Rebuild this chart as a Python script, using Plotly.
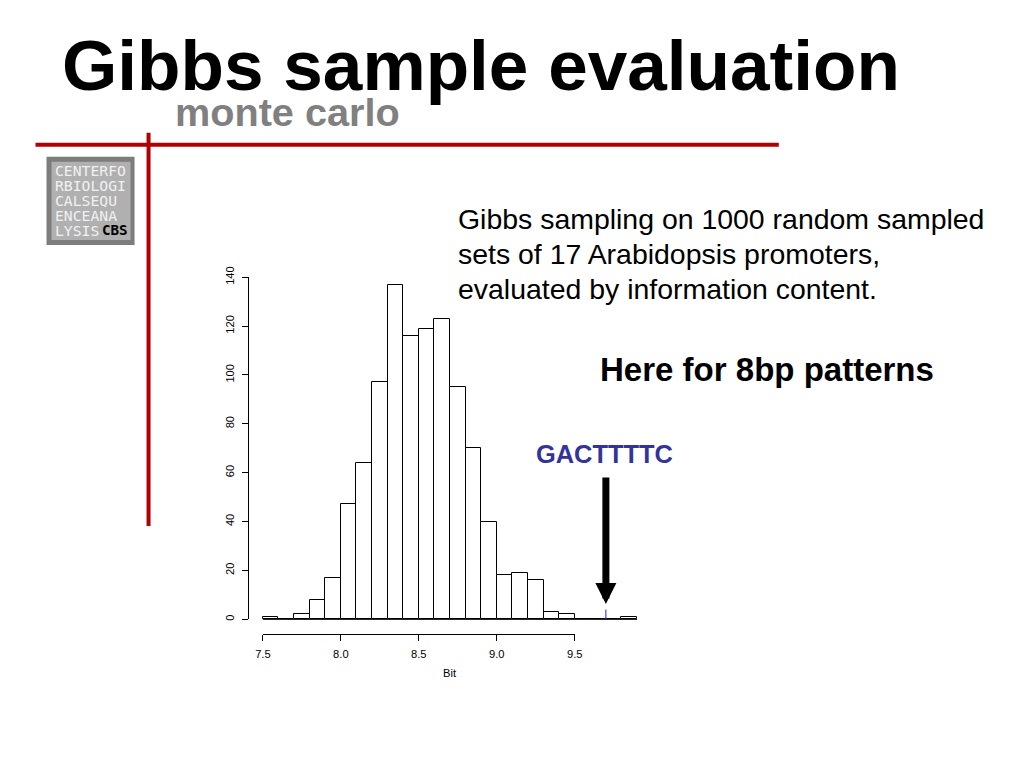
import plotly.graph_objects as go

W, H = 1024, 768
# the page is shown slightly scaled/offset in the window: window = A + S * figure_px
S = 0.984
AX, AY = 16.5, 17.2

# ---- data ----
bin_starts = [7.5, 7.6, 7.7, 7.8, 7.9, 8.0, 8.1, 8.2, 8.3, 8.4, 8.5, 8.6,
              8.7, 8.8, 8.9, 9.0, 9.1, 9.2, 9.3, 9.4, 9.5, 9.6, 9.7, 9.8]
counts = [1, 0, 2, 8, 17, 47, 64, 97, 137, 116, 119, 123,
          95, 70, 40, 18, 19, 16, 3, 2, 0, 0, 0, 1]
bin_width = 0.1
x_ticks = [7.5, 8.0, 8.5, 9.0, 9.5]
x_tick_labels = ["7.5", "8.0", "8.5", "9.0", "9.5"]
y_ticks = [0, 20, 40, 60, 80, 100, 120, 140]
y_tick_labels = ["0", "20", "40", "60", "80", "100", "120", "140"]
observed_value = 9.7
observed_motif = "GACTTTTC"
x_label = "Bit"

title = "Gibbs sample evaluation"
subtitle = "monte carlo"
body_lines = ["Gibbs sampling on 1000 random sampled",
              "sets of 17 Arabidopsis promoters,",
              "evaluated by information content."]
note = "Here for 8bp patterns"
logo_lines = ["CENTERFO", "RBIOLOGI", "CALSEQU", "ENCEANA", "LYSIS"]
logo_bold = "CBS"

# ---- layout geometry (window pixels) ----
X0_PX, X1_PX = 263.3, 575.0      # window pixel of x_ticks[0], x_ticks[-1]
Y0_PX, YT_PX = 617.3, 275.3      # window pixel of y_ticks[0], y_ticks[-1]
XAXIS_LINE_PX = 632
YAXIS_LINE_PX = 248


def fx(x):
    return (x - AX) / S


def fy(y):
    return (y - AY) / S


def px(x):
    return fx(x) / W


def py(y):
    return 1 - fy(y) / H


def fs(size):
    return size / S


xs = (fx(X1_PX) - fx(X0_PX)) / (x_ticks[-1] - x_ticks[0])
ys = (fy(Y0_PX) - fy(YT_PX)) / (y_ticks[-1] - y_ticks[0])
x_range = [x_ticks[0] - fx(X0_PX) / xs, x_ticks[0] + (W - fx(X0_PX)) / xs]
y_range = [-(H - fy(Y0_PX)) / ys, fy(Y0_PX) / ys]

fig = go.Figure()

# histogram bars
fig.add_trace(go.Bar(
    x=bin_starts, y=counts, width=bin_width, offset=0,
    marker=dict(color="white", line=dict(color="black", width=1)),
    xaxis="x", yaxis="y", hoverinfo="skip", showlegend=False))

# baseline of the histogram
fig.add_trace(go.Scatter(
    x=[bin_starts[0], bin_starts[-1] + bin_width], y=[0, 0], mode="lines",
    line=dict(color="black", width=1), xaxis="x", yaxis="y",
    hoverinfo="skip", showlegend=False))

# observed value rug tick
fig.add_trace(go.Scatter(
    x=[observed_value, observed_value], y=[0, 4], mode="lines",
    line=dict(color="#2323c8", width=1), xaxis="x", yaxis="y",
    hoverinfo="skip", showlegend=False))

# invisible trace for the R-style display axes
fig.add_trace(go.Scatter(
    x=[x_ticks[0], x_ticks[-1]], y=[y_ticks[0], y_ticks[-1]], mode="markers",
    marker=dict(opacity=0), xaxis="x2", yaxis="y2",
    hoverinfo="skip", showlegend=False))

sans = "Liberation Sans, Arial, sans-serif"
axis_font = dict(family=sans, size=fs(11), color="black")

fig.update_layout(
    width=W, height=H,
    margin=dict(l=0, r=0, t=0, b=0),
    paper_bgcolor="white", plot_bgcolor="rgba(0,0,0,0)",
    bargap=0,
    xaxis=dict(domain=[0, 1], range=x_range, visible=False, fixedrange=True),
    yaxis=dict(domain=[0, 1], range=y_range, visible=False, fixedrange=True),
    xaxis2=dict(domain=[px(X0_PX), px(X1_PX)], range=[x_ticks[0], x_ticks[-1]],
                anchor="free", position=py(XAXIS_LINE_PX),
                showline=True, linecolor="black", linewidth=1,
                ticks="outside", ticklen=6, tickcolor="black", tickwidth=1,
                tickvals=x_ticks, ticktext=x_tick_labels, tickfont=axis_font,
                ticklabelstandoff=4,
                showgrid=False, zeroline=False, fixedrange=True),
    yaxis2=dict(domain=[py(Y0_PX), py(YT_PX)], range=[y_ticks[0], y_ticks[-1]],
                anchor="free", position=px(YAXIS_LINE_PX),
                showline=True, linecolor="black", linewidth=1,
                ticks="outside", ticklen=6, tickcolor="black", tickwidth=1,
                tickvals=y_ticks, ticktext=y_tick_labels, tickfont=axis_font,
                tickangle=-90, ticklabelstandoff=3,
                showgrid=False, zeroline=False, fixedrange=True),
)

red = "#b00000"
shapes = [
    dict(type="line", xref="paper", yref="paper", x0=px(36), x1=px(779),
         y0=py(143), y1=py(143), line=dict(color=red, width=4)),
    dict(type="line", xref="paper", yref="paper", x0=px(149), x1=px(149),
         y0=py(131), y1=py(524), line=dict(color=red, width=4)),
    dict(type="rect", xref="paper", yref="paper", x0=px(47), x1=px(135),
         y0=py(155), y1=py(243), fillcolor="#7d7d7d", line=dict(width=0)),
    dict(type="rect", xref="paper", yref="paper", x0=px(52), x1=px(131),
         y0=py(160), y1=py(238), fillcolor="#b0b0b0", line=dict(width=0)),
]
fig.update_layout(shapes=shapes)

ann = []


def text_ann(text, x, y, size, color="black", xanchor="left", height=None, family=sans):
    d = dict(text=text, x=px(x), y=py(y), xref="paper", yref="paper",
             xanchor=xanchor, yanchor="middle", showarrow=False, borderpad=0,
             font=dict(family=family, size=fs(size), color=color))
    if height is not None:
        d["height"] = height
    return d


ann.append(text_ann("<b>" + title + "</b>", 61, 63.5, 70))
ann.append(text_ann("<b>" + subtitle + "</b>", 174, 110, 39, color="#808080"))
for i, line in enumerate(body_lines):
    ann.append(text_ann(line, 457, 217.5 + 35 * i, 28, height=34))
ann.append(text_ann("<b>" + note + "</b>", 599, 367.3, 32.5))
ann.append(text_ann("<b>" + observed_motif + "</b>", 604.5, 452.5, 25, color="#333399",
                    xanchor="center", height=30))
ann.append(text_ann(x_label, 450, 671, 11, xanchor="center"))
# arrow pointing to the observed value
ann.append(dict(text="", x=observed_value, y=(Y0_PX - 602) / (Y0_PX - YT_PX) * y_ticks[-1],
                xref="x", yref="y",
                ax=observed_value, ay=(Y0_PX - 474) / (Y0_PX - YT_PX) * y_ticks[-1],
                axref="x", ayref="y",
                showarrow=True, arrowhead=2, arrowsize=0.6, arrowwidth=7,
                arrowcolor="black", standoff=0))
# logo text
mono = "DejaVu Sans Mono, monospace"
for i, line in enumerate(logo_lines):
    ann.append(text_ann(line, 54, 168 + 15 * i, 14.5, color="#f0f0f0", family=mono, height=14))
ann.append(text_ann("<b>" + logo_bold + "</b>", 129, 228, 14, xanchor="right", family=mono, height=14))
fig.update_layout(annotations=ann)

fig.write_html("out.html")
